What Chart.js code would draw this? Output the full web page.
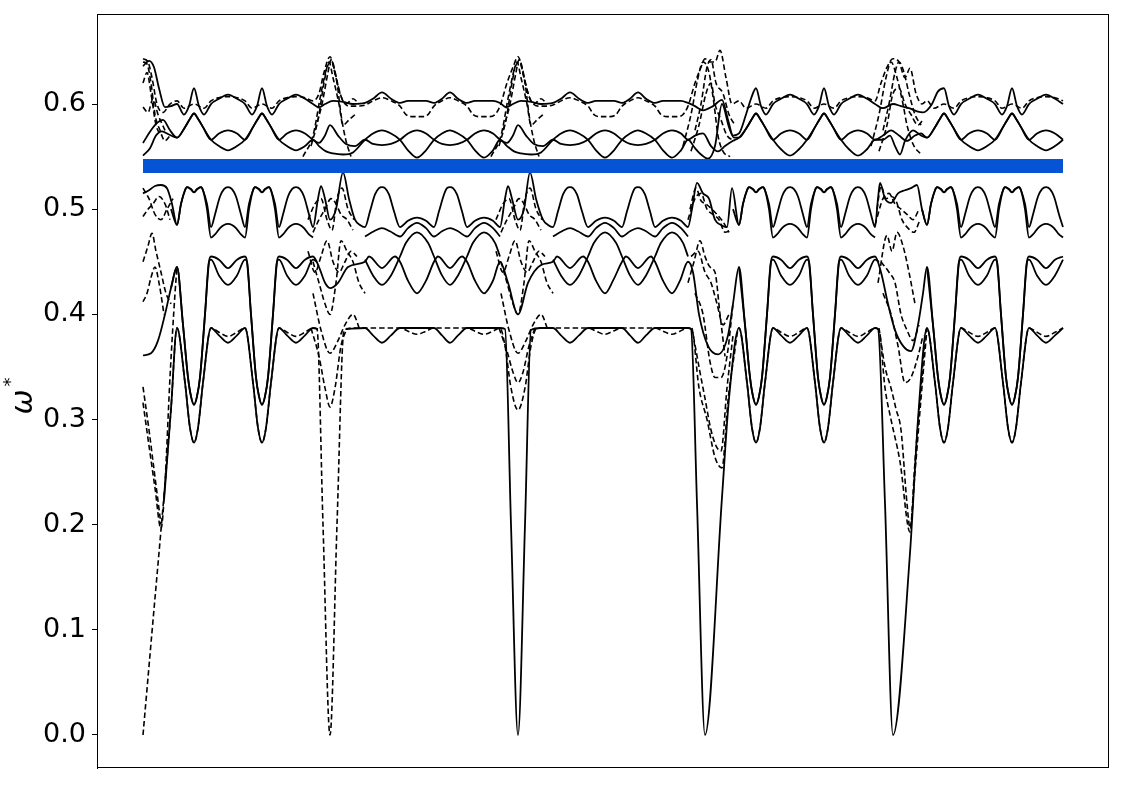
<!DOCTYPE html>
<html>
<head>
<meta charset="utf-8">
<script src="https://cdn.jsdelivr.net/npm/chart.js@4/dist/chart.umd.min.js"></script>
<style>
  html, body { margin: 0; padding: 0; background: #fff; }
  canvas { display: block; }
</style>
</head>
<body>
<canvas id="bands" width="1125" height="785"></canvas>
<script>
// path coordinate k (0..920) and frequency w
const yTicks = [0.0, 0.1, 0.2, 0.3, 0.4, 0.5, 0.6];
const gapBand = [[0, 0.541], [920, 0.541]];

// lowest branch, solid
const s1 = [[21,0.223],[28,0.31],[34,0.387],[42,0.335],[47,0.292],[51,0.278],[55,0.292],[60,0.335],[68,0.387],[76,0.38],[85,0.373],[94,0.38],[102,0.387],[110,0.335],[115,0.292],[119,0.278],[123,0.292],[128,0.335],[136,0.387],[144,0.38],[153,0.373],[162,0.38],[170,0.387],[175,0.386],[180,null],
  [203,0.386],[222,0.387],[230,0.38],[239,0.373],[248,0.38],[257,0.387],[274,0.387],[291,0.387],[299,0.38],[307,0.373],[315,0.38],[324,0.387],[341,0.387],[357,0.387],[362,0.386],[368,0.2],[375,0],[382,0.2],[388,0.385],
  [398,0.387],[410,0.387],[418,0.38],[427,0.373],[436,0.38],[445,0.387],[462,0.387],[479,0.387],[487,0.38],[495,0.373],[503,0.38],[512,0.387],[529,0.387],[545,0.387],[548,0.386],[554,0.22],[562,0],[579,0.226],[586,0.32],[596,0.387],
  [604,0.335],[609,0.292],[613,0.278],[617,0.292],[622,0.335],[630,0.387],[638,0.38],[647,0.373],[656,0.38],[664,0.387],[672,0.335],[677,0.292],[681,0.278],[685,0.292],[690,0.335],[698,0.387],[706,0.38],[715,0.373],[724,0.38],[732,0.387],[735,0.386],[742,0.22],[750,0],[767,0.173],[775,0.30],[784,0.387],
  [792,0.335],[797,0.292],[801,0.278],[805,0.292],[810,0.335],[818,0.387],[826,0.38],[835,0.373],[844,0.38],[852,0.387],[860,0.335],[865,0.292],[869,0.278],[873,0.292],[878,0.335],[886,0.387],[894,0.38],[903,0.373],[912,0.38],[920,0.387]];

// lowest branch, dashed
const d1 = [[0,0],[9,0.098],[18,0.195],[23,0.25],[28,0.31],[34,0.387],[42,0.335],[47,0.292],[51,0.278],[55,0.292],[60,0.335],[68,0.387],[76,0.383],[85,0.379],[94,0.383],[102,0.387],[110,0.335],[115,0.292],[119,0.278],[123,0.292],[128,0.335],[136,0.387],[144,0.383],[153,0.379],[162,0.383],[170,0.387],[174,0.386],[180,0.2],[187,0],[194,0.2],[201,0.385],
  [211,0.387],[222,0.387],[239,0.387],[257,0.387],[265,0.384],[274,0.381],[283,0.384],[291,0.387],[307,0.387],[324,0.387],[332,0.384],[341,0.381],[350,0.384],[357,0.387],[362,0.37],[368,0.33],[375,0.309],[382,0.33],[388,0.37],[394,0.387],
  [410,0.387],[427,0.387],[445,0.387],[453,0.384],[462,0.381],[470,0.384],[479,0.387],[495,0.387],[512,0.387],[520,0.384],[529,0.381],[537,0.384],[545,0.387],[549,0.385],[556,0.33],[564,0.30],[572,0.264],[579,0.254],[585,0.318],[591,0.36],[596,0.387],
  [604,0.335],[609,0.292],[613,0.278],[617,0.292],[622,0.335],[630,0.387],[638,0.383],[647,0.379],[656,0.383],[664,0.387],[672,0.335],[677,0.292],[681,0.278],[685,0.292],[690,0.335],[698,0.387],[706,0.383],[715,0.379],[724,0.383],[732,0.387],[736,0.385],[742,0.33],[748,0.30],[757,0.26],[767,0.193],[772,0.26],[778,0.33],[784,0.387],
  [792,0.335],[797,0.292],[801,0.278],[805,0.292],[810,0.335],[818,0.387],[826,0.383],[835,0.379],[844,0.383],[852,0.387],[860,0.335],[865,0.292],[869,0.278],[873,0.292],[878,0.335],[886,0.387],[894,0.383],[903,0.379],[912,0.383],[920,0.387]];

// second branch (0.31 .. 0.455)
const s2 = [[0,0.361],[8,0.363],[15,0.375],[22,0.40],[28,0.425],[34,0.445],[40,0.39],[45,0.34],[48,0.322],[51,0.314],[54,0.322],[57,0.34],[62,0.40],[66,0.45],[68,0.455],[76,0.452],[85,0.444],[94,0.452],[102,0.455],[104,0.45],[108,0.40],[113,0.34],[116,0.322],[119,0.314],[122,0.322],[125,0.34],[130,0.40],[134,0.45],[136,0.455],[144,0.452],[153,0.444],[162,0.452],[170,0.455],[176,0.445],[182,0.43],[187,0.425],[195,0.43],[205,0.445],
  [222,0.45],[226,0.455],[239,0.444],[252,0.455],[257,0.45],[265,0.432],[274,0.42],[283,0.432],[291,0.45],[295,0.455],[307,0.444],[319,0.455],[324,0.45],[332,0.432],[341,0.42],[350,0.432],[357,0.45],[365,0.43],[375,0.40],[385,0.43],[398,0.447],
  [410,0.45],[414,0.455],[427,0.444],[440,0.455],[445,0.45],[453,0.432],[462,0.42],[470,0.432],[479,0.45],[483,0.455],[495,0.444],[508,0.455],[512,0.45],[520,0.432],[529,0.42],[537,0.432],[545,0.45],[550,0.44],[556,0.40],[565,0.37],[575,0.362],[585,0.38],[590,0.41],[596,0.445],
  [602,0.39],[607,0.34],[610,0.322],[613,0.314],[616,0.322],[619,0.34],[624,0.40],[628,0.45],[630,0.455],[638,0.452],[647,0.444],[656,0.452],[664,0.455],[666,0.45],[670,0.40],[675,0.34],[678,0.322],[681,0.314],[684,0.322],[687,0.34],[692,0.40],[696,0.45],[698,0.455],[706,0.452],[715,0.444],[724,0.452],[732,0.455],[738,0.44],[745,0.41],[752,0.385],[760,0.37],[768,0.365],[775,0.39],[780,0.42],[784,0.445],
  [790,0.39],[795,0.34],[798,0.322],[801,0.314],[804,0.322],[807,0.34],[812,0.40],[816,0.45],[818,0.455],[826,0.452],[835,0.444],[844,0.452],[852,0.455],[854,0.45],[858,0.40],[863,0.34],[866,0.322],[869,0.314],[872,0.322],[875,0.34],[880,0.40],[884,0.45],[886,0.455],[894,0.452],[903,0.444],[912,0.452],[920,0.455]];

// third branch (0.43 .. 0.48)
const s8 = [[28,0.425],[34,0.445],[40,0.39],[45,0.34],[48,0.322],[51,0.314],[54,0.322],[57,0.34],[62,0.40],[66,0.45],[68,0.452],[76,0.437],[85,0.428],[94,0.437],[102,0.452],[104,0.45],[108,0.40],[113,0.34],[116,0.322],[119,0.314],[122,0.322],[125,0.34],[130,0.40],[134,0.45],[136,0.452],[144,0.437],[153,0.428],[162,0.437],[170,0.452],[174,0.45],[180,null],
  [222,0.452],[230,0.437],[239,0.428],[248,0.437],[257,0.455],[263,0.468],[274,0.478],[285,0.468],[291,0.455],[299,0.437],[307,0.428],[315,0.437],[324,0.455],[330,0.468],[341,0.478],[352,0.468],[357,0.455],[362,null],
  [410,0.452],[418,0.437],[427,0.428],[436,0.437],[445,0.455],[451,0.468],[462,0.478],[473,0.468],[479,0.455],[487,0.437],[495,0.428],[503,0.437],[512,0.455],[518,0.468],[529,0.478],[540,0.468],[545,0.455],[550,null],
  [596,0.445],[602,0.39],[607,0.34],[610,0.322],[613,0.314],[616,0.322],[619,0.34],[624,0.40],[628,0.45],[630,0.452],[638,0.437],[647,0.428],[656,0.437],[664,0.452],[666,0.45],[670,0.40],[675,0.34],[678,0.322],[681,0.314],[684,0.322],[687,0.34],[692,0.40],[696,0.45],[698,0.452],[706,0.437],[715,0.428],[724,0.437],[732,0.452],[736,0.45],[740,null],
  [784,0.445],[790,0.39],[795,0.34],[798,0.322],[801,0.314],[804,0.322],[807,0.34],[812,0.40],[816,0.45],[818,0.452],[826,0.437],[835,0.428],[844,0.437],[852,0.452],[854,0.45],[858,0.40],[863,0.34],[866,0.322],[869,0.314],[872,0.322],[875,0.34],[880,0.40],[884,0.45],[886,0.452],[894,0.437],[903,0.428],[912,0.437],[920,0.452]];

// branch just below the gap, upper line
const s3 = [[0,0.515],[6,0.518],[12,0.522],[18,0.523],[24,0.52],[29,0.505],
  [34,0.485],[38,0.505],[42,0.518],[44,0.521],[48,0.519],[51,0.516],[54,0.519],[58,0.521],[60,0.518],[64,0.505],[68,0.483],[72,0.495],[77,0.512],[81,0.519],[85,0.521],[89,0.519],[93,0.512],[98,0.495],[102,0.483],[106,0.505],[110,0.518],[112,0.521],[116,0.519],[119,0.516],[122,0.519],[126,0.521],[128,0.518],[132,0.505],[136,0.483],[140,0.495],[145,0.512],[149,0.519],[153,0.521],[157,0.519],[161,0.512],[166,0.495],[170,0.483],
  [175,0.51],[178,0.522],[182,0.51],[187,0.49],[193,0.50],[200,0.535],[206,0.51],[212,0.49],[217,0.485],
  [222,0.483],[227,0.498],[232,0.514],[236,0.52],[239,0.521],[242,0.52],[246,0.514],[251,0.498],[257,0.483],[265,0.489],[274,0.492],[283,0.489],[291,0.483],[296,0.498],[301,0.514],[304,0.52],[307,0.521],[310,0.52],[314,0.514],[319,0.498],[324,0.483],[332,0.489],[341,0.492],[350,0.489],[357,0.483],
  [362,0.51],[365,0.522],[369,0.51],[375,0.49],[381,0.50],[387,0.535],[393,0.51],[400,0.49],[405,0.485],
  [410,0.483],[415,0.498],[420,0.514],[424,0.52],[427,0.521],[430,0.52],[434,0.514],[439,0.498],[445,0.483],[453,0.489],[462,0.492],[471,0.489],[479,0.483],[484,0.498],[489,0.514],[492,0.52],[495,0.521],[498,0.52],[502,0.514],[507,0.498],[512,0.483],[520,0.489],[529,0.492],[538,0.489],[545,0.483],
  [549,0.50],[554,0.525],[560,0.515],[566,0.51],[572,0.49],[578,0.485],[584,0.483],[589,0.52],
  [596,0.485],[600,0.505],[604,0.518],[606,0.521],[610,0.519],[613,0.516],[616,0.519],[620,0.521],[622,0.518],[626,0.505],[630,0.483],[634,0.495],[639,0.512],[643,0.519],[647,0.521],[651,0.519],[655,0.512],[660,0.495],[664,0.483],[668,0.505],[672,0.518],[674,0.521],[678,0.519],[681,0.516],[684,0.519],[688,0.521],[690,0.518],[694,0.505],[698,0.483],[702,0.495],[707,0.512],[711,0.519],[715,0.521],[719,0.519],[723,0.512],[728,0.495],[732,0.483],
  [735,0.51],[737,0.525],[742,0.51],[748,0.506],[755,0.515],[762,0.518],[768,0.52],[774,0.523],[779,0.5],
  [784,0.485],[788,0.505],[792,0.518],[794,0.521],[798,0.519],[801,0.516],[804,0.519],[808,0.521],[810,0.518],[814,0.505],[818,0.483],[822,0.495],[827,0.512],[831,0.519],[835,0.521],[839,0.519],[843,0.512],[848,0.495],[852,0.483],[856,0.505],[860,0.518],[862,0.521],[866,0.519],[869,0.516],[872,0.519],[876,0.521],[878,0.518],[882,0.505],[886,0.483],[890,0.495],[895,0.512],[899,0.519],[903,0.521],[907,0.519],[911,0.512],[916,0.495],[920,0.483]];

// branch just below the gap, lower line
const s4 = [[28,0.50],
  [34,0.485],[38,0.505],[42,0.518],[44,0.521],[48,0.519],[51,0.516],[54,0.519],[58,0.521],[60,0.518],[64,0.50],[68,0.473],[72,0.476],[77,0.482],[81,0.485],[85,0.486],[89,0.485],[93,0.482],[98,0.476],[102,0.473],[106,0.50],[110,0.518],[112,0.521],[116,0.519],[119,0.516],[122,0.519],[126,0.521],[128,0.518],[132,0.50],[136,0.473],[140,0.476],[145,0.482],[149,0.485],[153,0.486],[157,0.485],[161,0.482],[166,0.476],[170,0.473],[176,null],
  [222,0.474],[231,0.479],[239,0.482],[247,0.479],[257,0.474],[265,0.482],[274,0.487],[283,0.482],[291,0.474],[299,0.479],[307,0.482],[315,0.479],[324,0.474],[332,0.482],[341,0.487],[350,0.482],[357,0.474],[362,null],
  [410,0.474],[419,0.479],[427,0.482],[435,0.479],[445,0.474],[453,0.482],[462,0.487],[471,0.482],[479,0.474],[487,0.479],[495,0.482],[503,0.479],[512,0.474],[520,0.482],[529,0.487],[538,0.482],[545,0.474],[550,null],
  [590,0.50],[596,0.485],[600,0.505],[604,0.518],[606,0.521],[610,0.519],[613,0.516],[616,0.519],[620,0.521],[622,0.518],[626,0.50],[630,0.473],[634,0.476],[639,0.482],[643,0.485],[647,0.486],[651,0.485],[655,0.482],[660,0.476],[664,0.473],[668,0.50],[672,0.518],[674,0.521],[678,0.519],[681,0.516],[684,0.519],[688,0.521],[690,0.518],[694,0.50],[698,0.473],[702,0.476],[707,0.482],[711,0.485],[715,0.486],[719,0.485],[723,0.482],[728,0.476],[732,0.473],[738,null],
  [779,0.50],[784,0.485],[788,0.505],[792,0.518],[794,0.521],[798,0.519],[801,0.516],[804,0.519],[808,0.521],[810,0.518],[814,0.50],[818,0.473],[822,0.476],[827,0.482],[831,0.485],[835,0.486],[839,0.485],[843,0.482],[848,0.476],[852,0.473],[856,0.50],[860,0.518],[862,0.521],[866,0.519],[869,0.516],[872,0.519],[876,0.521],[878,0.518],[882,0.50],[886,0.473],[890,0.476],[895,0.482],[899,0.485],[903,0.486],[907,0.485],[911,0.482],[916,0.476],[920,0.473]];

// top solid line (0.59 .. 0.615)
const topA = [[0,0.636],[6,0.641],[11,0.635],[16,0.615],[22,0.597],[28,0.598],
  [34,0.600],[41,0.590],[46,0.598],[51,0.615],[56,0.598],[61,0.590],[68,0.600],[76,0.605],[85,0.609],[94,0.605],[102,0.600],[109,0.590],[114,0.598],[119,0.615],[124,0.598],[129,0.590],[136,0.600],[144,0.605],[153,0.609],[162,0.605],[170,0.600],
  [176,0.597],[182,0.60],[190,0.603],[200,0.602],[210,0.60],
  [222,0.601],[230,0.605],[239,0.611],[248,0.605],[257,0.601],[265,0.603],[274,0.603],[283,0.603],[291,0.601],[299,0.605],[307,0.611],[315,0.605],[324,0.601],[332,0.603],[341,0.603],[350,0.603],[357,0.601],
  [363,0.597],[370,0.60],[378,0.603],[388,0.602],[398,0.60],
  [410,0.601],[418,0.605],[427,0.611],[436,0.605],[445,0.601],[453,0.603],[462,0.603],[471,0.603],[479,0.601],[487,0.605],[495,0.611],[503,0.605],[512,0.601],[520,0.603],[529,0.603],[538,0.603],[545,0.601],
  [552,0.598],[560,0.594],[570,0.598],[579,0.604],[585,0.585],[590,0.57],[596,0.572],[603,0.59],[608,0.605],[613,0.615],
  [618,0.598],[623,0.590],[630,0.600],[638,0.605],[647,0.609],[656,0.605],[664,0.600],[671,0.590],[676,0.598],[681,0.615],[686,0.598],[691,0.590],[698,0.600],[706,0.605],[715,0.609],[724,0.605],[732,0.600],
  [740,0.596],[750,0.60],[758,0.598],[766,0.596],[774,0.593],[780,0.592],[784,0.594],[789,0.60],[795,0.612],[801,0.615],
  [806,0.598],[811,0.590],[818,0.600],[826,0.605],[835,0.609],[844,0.605],[852,0.600],[859,0.590],[864,0.598],[869,0.615],[874,0.598],[879,0.590],[886,0.600],[894,0.605],[903,0.609],[912,0.605],[920,0.600]];

// top dashed line, with the peaks near each corner
const topB = [[0,0.643],[5,0.64],[9,0.625],[14,0.60],[20,0.592],[27,0.60],
  [34,0.603],[41,0.596],[51,0.600],[61,0.596],[68,0.603],[76,0.606],[85,0.607],[94,0.606],[102,0.603],[109,0.596],[119,0.600],[129,0.596],[136,0.603],[144,0.606],[153,0.607],[162,0.606],[170,0.603],
  [176,0.61],[181,0.63],[187,0.645],[193,0.625],[199,0.605],[206,0.598],[214,0.598],
  [222,0.599],[230,0.603],[239,0.606],[248,0.603],[257,0.598],[263,0.59],[269,0.588],[274,0.588],[279,0.588],[285,0.59],[291,0.598],[299,0.603],[307,0.606],[315,0.603],[324,0.598],[330,0.59],[336,0.588],[341,0.588],[346,0.588],[352,0.59],[357,0.598],
  [364,0.62],[370,0.635],[375,0.645],[381,0.625],[387,0.605],[395,0.598],[403,0.598],
  [410,0.599],[418,0.603],[427,0.606],[436,0.603],[445,0.598],[451,0.59],[457,0.588],[462,0.588],[467,0.588],[473,0.59],[479,0.598],[487,0.603],[495,0.606],[503,0.603],[512,0.598],[518,0.59],[524,0.588],[529,0.588],[534,0.588],[540,0.59],[545,0.598],
  [552,0.62],[558,0.635],[562,0.643],[567,0.64],[572,0.64],[577,0.651],[583,0.625],[589,0.60],
  [596,0.603],[603,0.596],[613,0.600],[623,0.596],[630,0.603],[638,0.606],[647,0.607],[656,0.606],[664,0.603],[671,0.596],[681,0.600],[691,0.596],[698,0.603],[706,0.606],[715,0.607],[724,0.606],[732,0.603],
  [738,0.62],[744,0.635],[750,0.643],[756,0.64],[762,0.625],[767,0.634],[773,0.61],[779,0.60],
  [784,0.603],[791,0.596],[801,0.600],[811,0.596],[818,0.603],[826,0.606],[835,0.607],[844,0.606],[852,0.603],[859,0.596],[869,0.600],[879,0.596],[886,0.603],[894,0.606],[903,0.607],[912,0.606],[920,0.603]];

// pair just above the gap
const upC = [[0,0.563],[8,0.575],[14,0.582],[20,0.585],[27,0.575],
  [34,0.568],[42,0.578],[47,0.586],[51,0.591],[55,0.586],[60,0.578],[68,0.566],[76,0.572],[85,0.575],[94,0.572],[102,0.566],[110,0.578],[115,0.586],[119,0.591],[123,0.586],[128,0.578],[136,0.566],[144,0.572],[153,0.575],[162,0.572],[170,0.566],
  [176,0.563],[182,0.57],[187,0.58],[195,0.57],[203,0.562],[212,0.56],
  [222,0.566],[230,0.562],[239,0.561],[248,0.562],[257,0.566],[265,0.572],[274,0.575],[283,0.572],[291,0.566],[299,0.562],[307,0.561],[315,0.562],[324,0.566],[332,0.572],[341,0.575],[350,0.572],[357,0.566],
  [364,0.563],[370,0.57],[375,0.58],[383,0.57],[391,0.562],[400,0.56],
  [410,0.566],[418,0.562],[427,0.561],[436,0.562],[445,0.566],[453,0.572],[462,0.575],[471,0.572],[479,0.566],[487,0.562],[495,0.561],[503,0.562],[512,0.566],[520,0.572],[529,0.575],[538,0.572],[545,0.566],
  [552,0.57],[560,0.572],[568,0.56],[575,0.555],[582,0.56],[590,0.565],
  [596,0.568],[604,0.578],[609,0.586],[613,0.591],[617,0.586],[622,0.578],[630,0.566],[638,0.572],[647,0.575],[656,0.572],[664,0.566],[672,0.578],[677,0.586],[681,0.591],[685,0.586],[690,0.578],[698,0.566],[706,0.572],[715,0.575],[724,0.572],[732,0.566],
  [740,0.57],[748,0.575],[756,0.57],[764,0.565],[772,0.57],[778,0.572],
  [784,0.568],[792,0.578],[797,0.586],[801,0.591],[805,0.586],[810,0.578],[818,0.566],[826,0.572],[835,0.575],[844,0.572],[852,0.566],[860,0.578],[865,0.586],[869,0.591],[873,0.586],[878,0.578],[886,0.566],[894,0.572],[903,0.575],[912,0.572],[920,0.566]];

const upD = [[0,0.551],[7,0.558],[13,0.57],[19,0.574],[26,0.571],
  [34,0.568],[42,0.578],[47,0.586],[51,0.591],[55,0.586],[60,0.578],[68,0.566],[76,0.56],[85,0.556],[94,0.56],[102,0.566],[110,0.578],[115,0.586],[119,0.591],[123,0.586],[128,0.578],[136,0.566],[144,0.56],[153,0.556],[162,0.56],[170,0.566],
  [176,0.56],[183,0.555],[190,0.553],[200,0.552],[210,0.554],
  [222,0.566],[230,0.572],[239,0.575],[248,0.572],[257,0.566],[265,0.556],[274,0.549],[283,0.556],[291,0.566],[299,0.572],[307,0.575],[315,0.572],[324,0.566],[332,0.556],[341,0.549],[350,0.556],[357,0.566],
  [364,0.56],[371,0.555],[378,0.553],[388,0.552],[398,0.554],
  [410,0.566],[418,0.572],[427,0.575],[436,0.572],[445,0.566],[453,0.556],[462,0.549],[471,0.556],[479,0.566],[487,0.572],[495,0.575],[503,0.572],[512,0.566],[520,0.556],[529,0.549],[538,0.556],[545,0.566],
  [552,0.558],[558,0.552],[565,0.548],[572,0.56],[579,0.60],[586,0.578],[591,0.568],
  [596,0.568],[604,0.578],[609,0.586],[613,0.591],[617,0.586],[622,0.578],[630,0.566],[638,0.557],[647,0.551],[656,0.557],[664,0.566],[672,0.578],[677,0.586],[681,0.591],[685,0.586],[690,0.578],[698,0.566],[706,0.557],[715,0.551],[724,0.557],[732,0.566],
  [740,0.566],[747,0.57],[752,0.56],[757,0.552],[762,0.565],[770,0.575],[778,0.57],
  [784,0.568],[792,0.578],[797,0.586],[801,0.591],[805,0.586],[810,0.578],[818,0.566],[826,0.56],[835,0.556],[844,0.56],[852,0.566],[860,0.578],[865,0.586],[869,0.591],[873,0.586],[878,0.578],[886,0.566],[894,0.56],[903,0.556],[912,0.56],[920,0.566]];

// dashed pieces around the five corners
const tent1 = [[0,0.64],[4,0.638],[8,0.62],[12,0.59],[17,0.575],[22,0.565],[27,0.57],[30,null],
  [160,0.55],[170,0.57],[178,0.61],[184,0.635],[189,0.64],[194,0.62],[198,0.59],[203,0.565],[208,0.55],[212,null],
  [348,0.55],[358,0.57],[366,0.61],[372,0.635],[377,0.64],[382,0.62],[386,0.59],[391,0.565],[396,0.55],[400,null],
  [540,0.56],[548,0.59],[555,0.625],[560,0.64],[566,0.63],[571,0.60],[575,0.57],[580,0.555],[587,0.55],[590,null],
  [728,0.56],[736,0.59],[743,0.625],[748,0.64],[754,0.625],[760,0.60],[764,0.58],[770,0.562],[778,0.552]];
const tent2 = [[0,0.597],[5,0.592],[10,0.605],[15,0.59],[22,0.575],[25,null],
  [168,0.56],[175,0.585],[181,0.62],[186,0.64],[190,0.625],[196,0.60],[200,0.58],[206,0.585],[212,0.59],[215,null],
  [356,0.56],[363,0.585],[369,0.62],[374,0.64],[378,0.625],[384,0.60],[388,0.58],[394,0.585],[400,0.59],[403,null],
  [548,0.555],[556,0.58],[563,0.61],[568,0.62],[572,0.60],[578,0.585],[584,0.57],[592,0.565],[595,null],
  [736,0.555],[744,0.58],[750,0.61],[756,0.615],[762,0.60],[768,0.59],[775,0.58],[780,0.585]];
const tent3 = [[0,0.62],[4,0.63],[8,0.61],[13,0.58],[18,0.57],[21,null],
  [172,0.575],[179,0.60],[185,0.63],[188,0.642],[192,0.63],[197,0.61],[203,0.60],[210,0.605],[216,0.60],[219,null],
  [360,0.575],[367,0.60],[373,0.63],[376,0.642],[380,0.63],[385,0.61],[391,0.60],[398,0.605],[404,0.60],[407,null],
  [552,0.575],[558,0.60],[564,0.635],[568,0.642],[573,0.62],[580,0.61],[586,0.59],[592,0.58],[595,null],
  [740,0.575],[746,0.60],[752,0.63],[756,0.64],[761,0.63],[766,0.61],[772,0.59],[778,0.58]];
const mid1 = [[0,0.52],[6,0.51],[12,0.495],[18,0.49],[24,0.50],[30,0.51],[33,null],
  [165,0.49],[172,0.505],[178,0.51],[184,0.49],[189,0.48],[194,0.51],[199,0.52],[205,0.50],[211,0.49],[214,null],
  [353,0.49],[360,0.505],[366,0.51],[372,0.49],[377,0.48],[382,0.51],[387,0.52],[393,0.50],[399,0.49],[402,null],
  [545,0.49],[552,0.51],[558,0.515],[564,0.50],[570,0.495],[576,0.49],[582,0.478],[588,0.48],[591,null],
  [732,0.485],[740,0.51],[746,0.515],[752,0.505],[758,0.50],[764,0.495],[770,0.49],[776,0.50]];
const mid2 = [[0,0.493],[5,0.50],[10,0.505],[16,0.512],[22,0.505],[27,0.49],[30,null],
  [170,0.478],[176,0.49],[182,0.50],[188,0.51],[193,0.505],[198,0.495],[204,0.49],[210,0.48],[213,null],
  [358,0.478],[364,0.49],[370,0.50],[376,0.51],[381,0.505],[386,0.495],[392,0.49],[398,0.48],[401,null],
  [547,0.50],[553,0.52],[558,0.508],[563,0.505],[569,0.50],[574,0.495],[580,0.488],[586,0.478],[589,null],
  [734,0.50],[738,0.522],[743,0.51],[748,0.512],[753,0.508],[759,0.49],[765,0.482],[771,0.478],[777,0.49]];
const low1 = [[0,0.45],[5,0.465],[9,0.477],[13,0.46],[18,0.44],[23,0.42],[28,0.41],[31,null],
  [170,0.45],[176,0.43],[182,0.41],[187,0.40],[193,0.43],[198,0.47],[204,0.46],[210,0.45],[216,0.43],[222,0.42],[225,null],
  [358,0.45],[364,0.43],[370,0.41],[375,0.40],[381,0.43],[386,0.47],[392,0.46],[398,0.45],[404,0.43],[410,0.42],[413,null],
  [545,0.43],[551,0.45],[557,0.47],[562,0.455],[567,0.445],[572,0.44],[577,0.40],[582,0.36],[585,null],
  [735,0.43],[744,0.475],[749,0.46],[754,0.478],[760,0.465],[766,0.44],[772,0.41]];
const low2 = [[0,0.412],[4,0.42],[8,0.435],[12,0.445],[16,0.43],[21,0.40],[24,null],
  [165,0.46],[172,0.44],[178,0.455],[184,0.47],[190,0.45],[196,0.44],[202,0.45],[208,0.46],[214,0.455],[217,null],
  [353,0.46],[360,0.44],[366,0.455],[372,0.47],[378,0.45],[384,0.44],[390,0.45],[396,0.46],[402,0.455],[405,null],
  [548,0.455],[555,0.46],[562,0.44],[568,0.43],[574,0.41],[580,0.39],[586,0.40],[589,null],
  [738,0.45],[746,0.44],[752,0.43],[758,0.40],[764,0.385],[770,0.375],[776,0.39]];
const dipA = [[0,0.316],[6,0.275],[12,0.235],[18,0.196],[22,0.24],[27,0.34],[32,0.42],[34,0.445],[37,null],
  [168,0.387],[176,0.36],[182,0.33],[187,0.312],[192,0.33],[198,0.37],[204,0.387],[207,null],
  [356,0.387],[364,0.365],[370,0.345],[375,0.335],[380,0.345],[386,0.37],[392,0.387],[395,null],
  [549,0.387],[556,0.35],[562,0.32],[568,0.29],[573,0.275],[578,0.27],[584,0.33],[590,0.38],[593,null],
  [736,0.387],[742,0.35],[748,0.33],[753,0.31],[758,0.29],[764,0.22],[767,0.197],[772,0.25],[778,0.32],[784,0.387]];
const dipB = [[0,0.331],[6,0.29],[12,0.245],[18,0.2],[21,null],
  [170,0.42],[178,0.385],[187,0.363],[195,0.375],[202,0.39],[210,0.40],[217,0.385],[220,null],
  [358,0.42],[366,0.385],[375,0.363],[383,0.375],[390,0.39],[398,0.40],[405,0.385],[408,null],
  [552,0.42],[560,0.40],[567,0.355],[572,0.34],[578,0.34],[584,0.36],[590,0.41],[593,null],
  [740,0.42],[748,0.40],[755,0.37],[762,0.335],[768,0.34],[775,0.36],[780,0.38]];

const solidLines = [s1, s2, s8, s3, s4, topA, upC, upD];
const dashedLines = [d1, topB, tent1, tent2, tent3, mid1, mid2, low1, low2, dipA, dipB];

function toPoints(arr) {
    return arr.map(p => ({ x: p[0], y: p[1] }));
}

function lineSet(arr, dashed) {
    return {
        data: toPoints(arr),
        borderColor: "#000",
        borderWidth: dashed ? 1.6 : 1.8,
        borderDash: dashed ? [5.5, 3] : [],
        pointRadius: 0,
        fill: false,
        spanGaps: false,
        cubicInterpolationMode: "monotone",
        order: 1
    };
}

const frame = {
    id: "frame",
    afterDraw(chart) {
        const { ctx, chartArea: a } = chart;
        ctx.save();
        ctx.strokeStyle = "#000";
        ctx.lineWidth = 1;
        ctx.strokeRect(a.left + 0.5, a.top + 0.5, a.right - a.left - 1, a.bottom - a.top - 1);
        ctx.restore();
    }
};

const yLabel = {
    id: "yLabel",
    afterDraw(chart) {
        const ctx = chart.ctx;
        ctx.save();
        ctx.translate(24, 402);
        ctx.rotate(-Math.PI / 2);
        ctx.fillStyle = "#000";
        ctx.textAlign = "center";
        ctx.textBaseline = "middle";
        ctx.font = "italic 30px 'DejaVu Sans'";
        ctx.fillText("ω", 0, 0);
        ctx.font = "18px 'DejaVu Sans'";
        ctx.fillText("*", 20, -13);
        ctx.restore();
    }
};

function buildChart() {
    const datasets = [];
    datasets.push({
        data: toPoints(gapBand),
        borderColor: "#0654d6",
        borderWidth: 14,
        borderCapStyle: "butt",
        pointRadius: 0,
        fill: false,
        order: -1
    });
    solidLines.forEach(l => datasets.push(lineSet(l, false)));
    dashedLines.forEach(l => datasets.push(lineSet(l, true)));

    new Chart(document.getElementById("bands"), {
        type: "line",
        data: { datasets },
        options: {
            responsive: false,
            animation: false,
            devicePixelRatio: 1,
            layout: { padding: { left: 0, top: 14, right: 16, bottom: 17 } },
            plugins: { legend: { display: false }, tooltip: { enabled: false } },
            scales: {
                x: { type: "linear", min: -46, max: 966, display: false },
                y: {
                    type: "linear",
                    min: -0.0314,
                    max: 0.6856,
                    afterFit: s => { s.width = 97; s.paddingTop = 0; s.paddingBottom = 0; },
                    afterBuildTicks: s => { s.ticks = yTicks.map(v => ({ value: v })); },
                    ticks: {
                        color: "#000",
                        padding: 6,
                        font: { family: "DejaVu Sans", size: 27 },
                        callback: v => Number(v).toFixed(1)
                    },
                    grid: { display: true, drawOnChartArea: false, drawTicks: true, tickLength: 5, color: "#000" },
                    border: { display: true, color: "#000" }
                }
            }
        },
        plugins: [frame, yLabel]
    });
}

buildChart();
</script>
</body>
</html>
